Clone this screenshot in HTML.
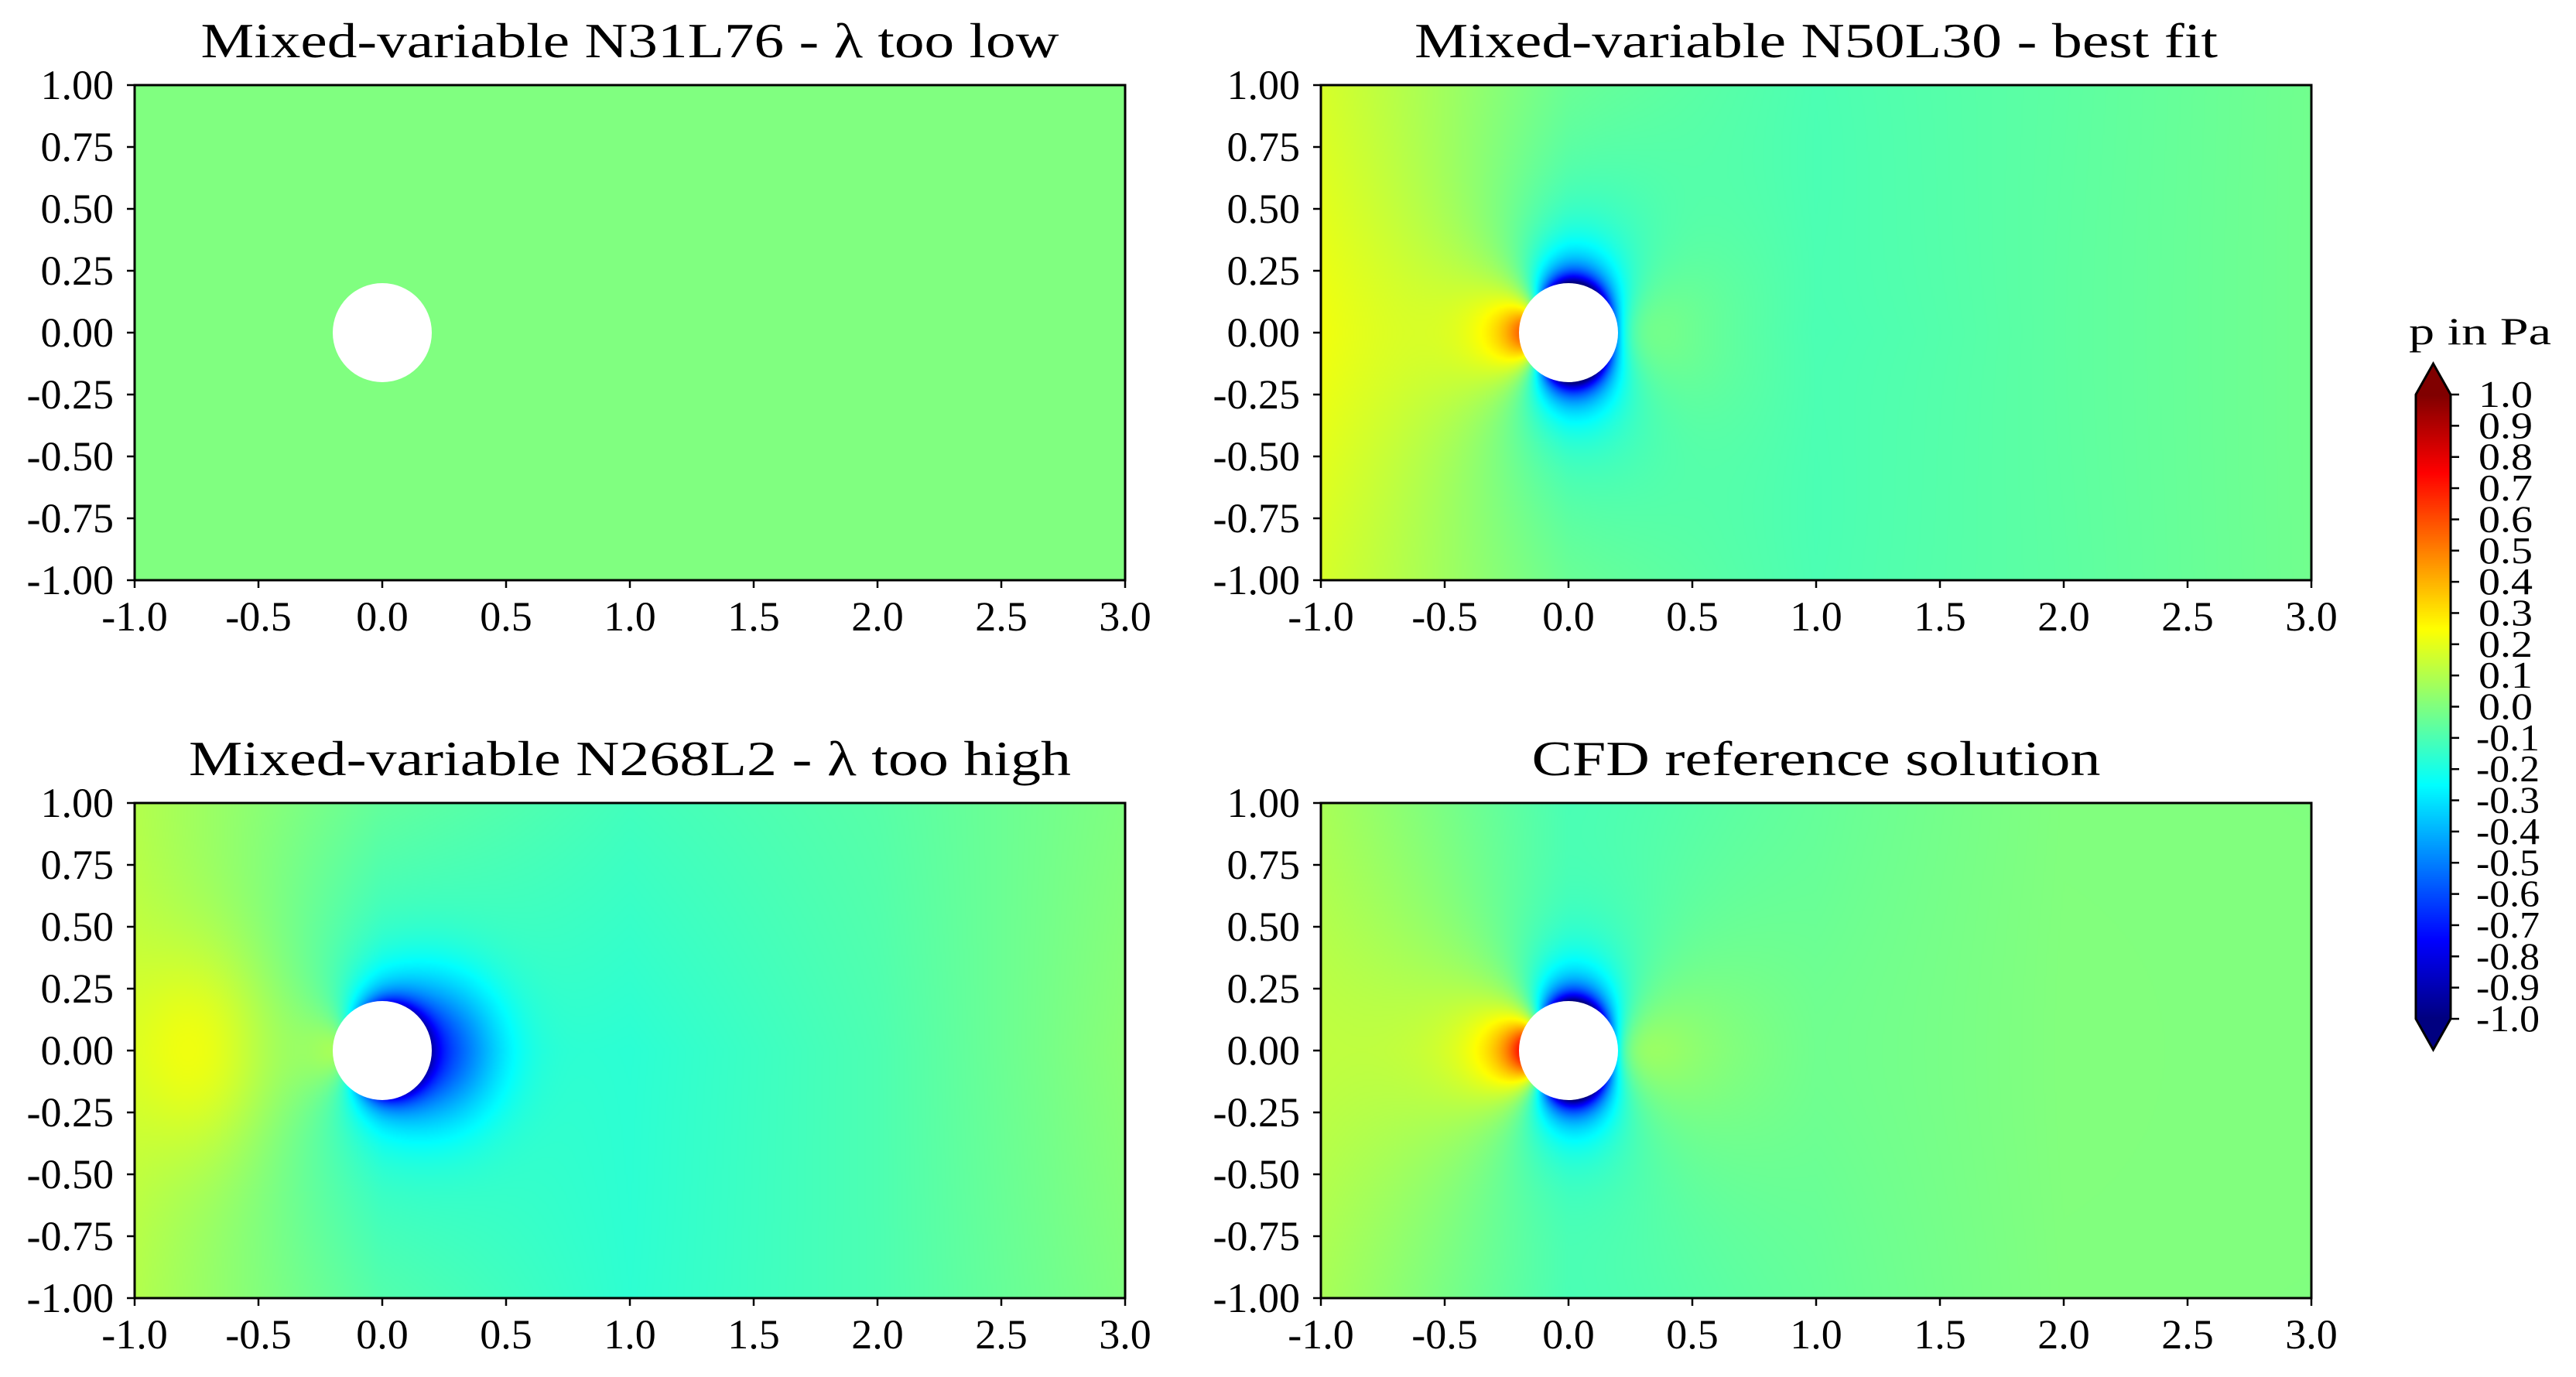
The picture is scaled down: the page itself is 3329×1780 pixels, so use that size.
<!DOCTYPE html>
<html><head><meta charset="utf-8"><style>
html,body{margin:0;padding:0;background:#fff;width:3329px;height:1780px;overflow:hidden}
canvas{position:absolute;display:block}
svg{position:absolute;left:0;top:0}
</style></head><body>
<canvas id="c0"></canvas>
<canvas id="c1"></canvas>
<canvas id="c2"></canvas>
<canvas id="c3"></canvas>
<canvas id="cb"></canvas>
<svg id="ov" width="3329" height="1780" xmlns="http://www.w3.org/2000/svg" font-family="'Liberation Serif', serif"></svg>
<script>
// ---- data ----
const xTicks = [-1.0,-0.5,0.0,0.5,1.0,1.5,2.0,2.5,3.0];
const xTickLabels = ["-1.0","-0.5","0.0","0.5","1.0","1.5","2.0","2.5","3.0"];
const yTicks = [1.0,0.75,0.5,0.25,0.0,-0.25,-0.5,-0.75,-1.0];
const yTickLabels = ["1.00","0.75","0.50","0.25","0.00","-0.25","-0.50","-0.75","-1.00"];
const cbTicks = [1.0,0.9,0.8,0.7,0.6,0.5,0.4,0.3,0.2,0.1,0.0,-0.1,-0.2,-0.3,-0.4,-0.5,-0.6,-0.7,-0.8,-0.9,-1.0];
const cbTickLabels = ["1.0","0.9","0.8","0.7","0.6","0.5","0.4","0.3","0.2","0.1","0.0","-0.1","-0.2","-0.3","-0.4","-0.5","-0.6","-0.7","-0.8","-0.9","-1.0"];
const titles = ["Mixed-variable N31L76 - λ too low","Mixed-variable N50L30 - best fit","Mixed-variable N268L2 - λ too high","CFD reference solution"];
const gridX = [-1,0,1,2,3];
const gridY = [1,0,-1];
// coarse far-field pressure (rows y=1,0,-1; cols x=-1..3)
const field0 = [[0.0,0.0,0.0,0.0,0.0],[0.0,0.0,0.0,0.0,0.0],[0.0,0.0,0.0,0.0,0.0]];
const field1 = [[0.17,-0.02,-0.1,-0.07,-0.03],[0.2,-0.05,-0.12,-0.07,-0.03],[0.17,-0.02,-0.1,-0.07,-0.03]];
const field2 = [[0.1,-0.05,-0.12,-0.08,0.0],[0.12,-0.15,-0.17,-0.1,0.02],[0.1,-0.08,-0.16,-0.1,0.0]];
const field3 = [[0.08,-0.08,-0.05,0.0,0.0],[0.1,0.0,-0.05,0.0,0.0],[0.08,-0.08,-0.05,0.0,0.0]];
// near-field amplitudes [c1 (cos2θ), c0 (isotropic), d (cosθ)]
const near0 = [0.0,0.0,0.0];
const near1 = [0.55,-0.45,-0.45];
const near2 = [0.175,-0.3,-0.3];
const near3 = [0.61,-0.39,-0.475];
// blobs [x, y, sx, sy, amp]
const blobs0 = [];
const blobs1 = [];
const blobs2 = [[-0.72,0,0.2,0.3,0.15],[0.25,0,0.17,0.2,-0.38]];
const blobs3 = [];
const fields=[field0,field1,field2,field3], nears=[near0,near1,near2,near3], blobsAll=[blobs0,blobs1,blobs2,blobs3];

// ---- layout ----
const panels=[{l:174,t:110},{l:1707,t:110},{l:174,t:1038},{l:1707,t:1038}];
const PW=1280, PH=640, R=0.2;
const sx=(p,x)=>p.l+(x+1)/4*PW, sy=(p,y)=>p.t+(1-y)/2*PH;
function jet(v){let t=(v+1)/2;t=Math.max(0,Math.min(1,t));
 const c=a=>Math.max(0,Math.min(1,1.5-Math.abs(4*t-a)));
 return [c(3)*255,c(2)*255,c(1)*255];}
function bil(g,x,y){let fx=(x-gridX[0])/(gridX[1]-gridX[0]);let fy=(gridY[0]-y)/(gridY[0]-gridY[1]);
 fx=Math.max(0,Math.min(gridX.length-1.0001,fx));fy=Math.max(0,Math.min(gridY.length-1.0001,fy));
 const i=Math.floor(fx),j=Math.floor(fy),u=fx-i,w=fy-j;
 return g[j][i]*(1-u)*(1-w)+g[j][i+1]*u*(1-w)+g[j+1][i]*(1-u)*w+g[j+1][i+1]*u*w;}
function val(k,x,y){let v=bil(fields[k],x,y);const r=Math.hypot(x,y),q=R/Math.max(r,R),th=Math.atan2(y,x);
 const n=nears[k];v+=n[0]*q*q*Math.cos(2*th)+n[1]*q*q*q*q+n[2]*q*q*q*Math.cos(th);
 for(const b of blobsAll[k]){v+=b[4]*Math.exp(-((x-b[0])**2/(2*b[2]*b[2])+(y-b[1])**2/(2*b[3]*b[3])));}
 return v;}
const S=2;
panels.forEach((p,k)=>{const cv=document.getElementById('c'+k);cv.width=PW/S;cv.height=PH/S;
 cv.style.left=p.l+'px';cv.style.top=p.t+'px';cv.style.width=PW+'px';cv.style.height=PH+'px';
 const ctx=cv.getContext('2d'),im=ctx.createImageData(cv.width,cv.height);
 for(let j=0;j<cv.height;j++)for(let i=0;i<cv.width;i++){const x=-1+(i+0.5)/cv.width*4,y=1-(j+0.5)/cv.height*2;
  const c=jet(val(k,x,y)),o=(j*cv.width+i)*4;im.data[o]=c[0];im.data[o+1]=c[1];im.data[o+2]=c[2];im.data[o+3]=255;}
 ctx.putImageData(im,0,0);});
// colorbar
const CB={l:3122,r:3167,top:510,bot:1317,tipT:470,tipB:1357};
(function(){const cv=document.getElementById('cb');cv.width=1;cv.height=CB.bot-CB.top;
 cv.style.left=CB.l+'px';cv.style.top=CB.top+'px';cv.style.width=(CB.r-CB.l)+'px';cv.style.height=(CB.bot-CB.top)+'px';
 const ctx=cv.getContext('2d'),im=ctx.createImageData(1,cv.height);
 for(let j=0;j<cv.height;j++){const c=jet(1-2*(j+0.5)/cv.height);im.data[j*4]=c[0];im.data[j*4+1]=c[1];im.data[j*4+2]=c[2];im.data[j*4+3]=255;}
 ctx.putImageData(im,0,0);})();
// ---- overlay ----
const NS='http://www.w3.org/2000/svg',ov=document.getElementById('ov');
function el(tag,attrs,text){const e=document.createElementNS(NS,tag);for(const a in attrs)e.setAttribute(a,attrs[a]);if(text!==undefined)e.textContent=text;ov.appendChild(e);return e;}
const titleW=[1109,1038,1140,735];
panels.forEach((p,k)=>{
 const c=el('circle',{cx:sx(p,0),cy:sy(p,0),r:R/4*PW,fill:'#fff'});
 
 
 const fr=el('rect',{x:p.l,y:p.t,width:PW,height:PH,fill:'none',stroke:'#000','stroke-width':3});
 
 
 const t=el('text',{x:p.l+PW/2,y:p.t-36,'text-anchor':'middle','font-size':64,textLength:titleW[k],lengthAdjust:'spacingAndGlyphs'},titles[k]);
 
 
 xTicks.forEach((v,i)=>{const x=sx(p,v);
  const tk=el('line',{x1:x,x2:x,y1:p.t+PH,y2:p.t+PH+10,stroke:'#000','stroke-width':2.5});
  
  
  const lb=el('text',{x:x,y:p.t+PH+65,'text-anchor':'middle','font-size':54},xTickLabels[i]);
  
  });
 yTicks.forEach((v,i)=>{const y=sy(p,v);
  const tk=el('line',{x1:p.l-10,x2:p.l,y1:y,y2:y,stroke:'#000','stroke-width':2.5});
  
  
  const lb=el('text',{x:p.l-27,y:y+18,'text-anchor':'end','font-size':54},yTickLabels[i]);
  
  });
});
const cbOut=el('path',{d:`M${CB.l},${CB.top} L${(CB.l+CB.r)/2},${CB.tipT} L${CB.r},${CB.top} Z`,fill:'rgb(128,0,0)',stroke:'none'});


const cbIn=el('path',{d:`M${CB.l},${CB.bot} L${(CB.l+CB.r)/2},${CB.tipB} L${CB.r},${CB.bot} Z`,fill:'rgb(0,0,128)',stroke:'none'});


const cbF=el('path',{d:`M${CB.l},${CB.top} L${(CB.l+CB.r)/2},${CB.tipT} L${CB.r},${CB.top} L${CB.r},${CB.bot} L${(CB.l+CB.r)/2},${CB.tipB} L${CB.l},${CB.bot} Z`,fill:'none',stroke:'#000','stroke-width':3});


cbTicks.forEach((v,i)=>{const y=CB.top+(1-v)/2*(CB.bot-CB.top);
 const tk=el('line',{x1:CB.r,x2:CB.r+11,y1:y,y2:y,stroke:'#000','stroke-width':2.5});
 
 
 const lb=el('text',{x:v<0?3200:3203,y:y+16,'font-size':49,textLength:v<0?82:70,lengthAdjust:'spacingAndGlyphs'},cbTickLabels[i]);
 
 });
const ct=el('text',{x:3113,y:445,'font-size':50,textLength:184,lengthAdjust:'spacingAndGlyphs'},'p in Pa');


</script>
</body></html>
